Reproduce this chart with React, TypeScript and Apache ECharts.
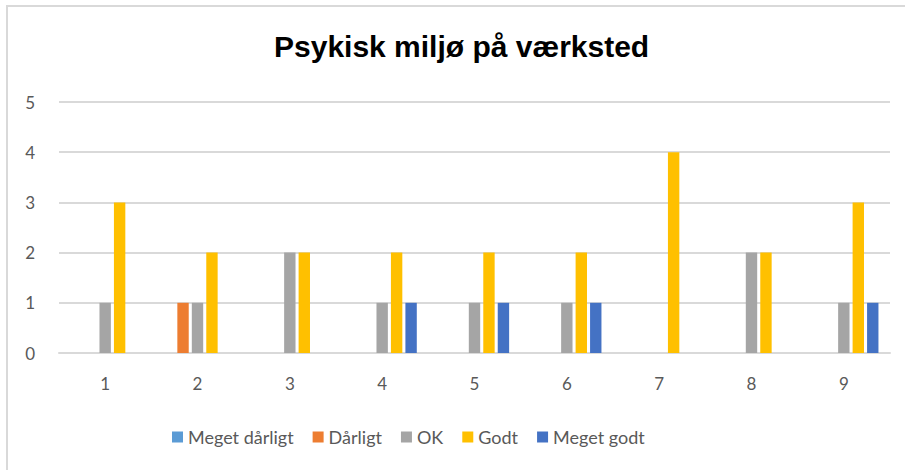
import React, { useEffect, useRef } from "react";
import * as echarts from "echarts";

const categories = ["1", "2", "3", "4", "5", "6", "7", "8", "9"];
const seriesNames = ["Meget dårligt", "Dårligt", "OK", "Godt", "Meget godt"];
const megetDaarligt = [0, 0, 0, 0, 0, 0, 0, 0, 0];
const daarligt = [0, 1, 0, 0, 0, 0, 0, 0, 0];
const ok = [1, 1, 2, 1, 1, 1, 0, 2, 1];
const godt = [3, 2, 2, 2, 2, 2, 4, 2, 3];
const megetGodt = [0, 0, 0, 1, 1, 1, 0, 0, 1];
const colors = ["#5B9BD5", "#ED7D31", "#A5A5A5", "#FFC000", "#4472C4"];
const titleText = "Psykisk miljø på værksted";

export default function App() {
  const ref = useRef<HTMLDivElement>(null);
  useEffect(() => {
    document.body.style.margin = "0";
    const chart = echarts.init(ref.current!, null, { renderer: "svg" });
    const values = [megetDaarligt, daarligt, ok, godt, megetGodt];
    chart.setOption({
      animation: false,
      color: colors,
      title: {
        text: titleText,
        left: 274,
        top: 31,
        padding: 0,
        textStyle: {
          fontFamily: "Liberation Sans, Arial",
          fontWeight: "bold",
          fontSize: 30,
          color: "#000000",
        },
      },
      graphic: [
        {
          type: "rect",
          shape: { x: 7, y: 6, width: 1000, height: 1000 },
          style: { fill: "none", stroke: "#d9d9d9", lineWidth: 2 },
          silent: true,
        },
      ],
      legend: {
        data: seriesNames,
        left: 172,
        top: 428,
        padding: 0,
        icon: "rect",
        itemWidth: 11,
        itemHeight: 11,
        itemGap: 19,
        textStyle: { fontFamily: "Lato", fontSize: 18, color: "#595959" },
      },
      grid: { left: 59, right: 15, top: 102, bottom: 117, containLabel: false },
      xAxis: {
        type: "category",
        data: categories,
        axisLine: { lineStyle: { color: "#d9d9d9", width: 2 } },
        axisTick: { show: false },
        axisLabel: { fontFamily: "Lato", fontSize: 17, color: "#595959", margin: 22 },
      },
      yAxis: {
        type: "value",
        min: 0,
        max: 5,
        interval: 1,
        axisLine: { show: false },
        axisTick: { show: false },
        axisLabel: { fontFamily: "Lato", fontSize: 17, color: "#595959", margin: 24 },
        splitLine: { lineStyle: { color: "#d9d9d9", width: 2 } },
      },
      series: seriesNames.map((name, i) => ({
        name,
        type: "bar",
        data: values[i],
        barGap: "27%",
        barCategoryGap: "25%",
        itemStyle: { color: colors[i] },
      })),
    });
    return () => chart.dispose();
  }, []);
  return (
    <div
      ref={ref}
      style={{ position: "absolute", left: 0, top: 0, width: 905, height: 470 }}
    />
  );
}
